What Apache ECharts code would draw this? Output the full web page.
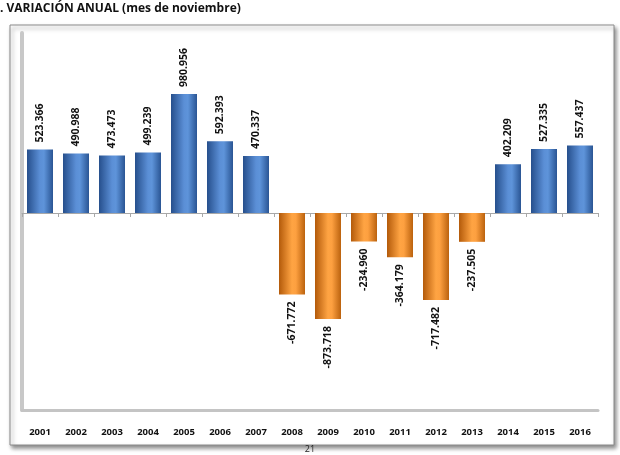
<!DOCTYPE html>
<html><head><meta charset="utf-8">
<script src="https://cdn.jsdelivr.net/npm/echarts@6/dist/echarts.min.js"></script>
<style>html,body{margin:0;padding:0;background:#fff}#c{width:620px;height:455px}</style>
</head><body><div id="c"></div>
<script>
const years = ['2001','2002','2003','2004','2005','2006','2007','2008','2009','2010','2011','2012','2013','2014','2015','2016'];
const values = [523.366, 490.988, 473.473, 499.239, 980.956, 592.393, 470.337, -671.772, -873.718, -234.960, -364.179, -717.482, -237.505, 402.209, 527.335, 557.437];
const titleText = '. VARIACIÓN ANUAL (mes de noviembre)';
const pageNumber = '21';

const blueGrad = new echarts.graphic.LinearGradient(0,0,1,0,[
  {offset:0,color:'#264f8c'},{offset:0.5,color:'#5b8fd6'},{offset:0.65,color:'#5e94da'},{offset:1,color:'#2a5594'}]);
const orangeGrad = new echarts.graphic.LinearGradient(0,0,1,0,[
  {offset:0,color:'#b35a0a'},{offset:0.5,color:'#ffa443'},{offset:0.65,color:'#fda040'},{offset:1,color:'#bb620e'}]);

function fmt(v){ return v.toFixed(3); }

const data = values.map(v => ({
  value: v,
  itemStyle: { color: v >= 0 ? blueGrad : orangeGrad },
  label: v >= 0
    ? { position: 'top', align: 'left', verticalAlign: 'middle' }
    : { position: 'bottom', align: 'right', verticalAlign: 'middle' }
}));

const chart = echarts.init(document.getElementById('c'), null, {renderer:'canvas'});
chart.setOption({
  animation: false,
  graphic: [
    { type:'rect', z:-10, shape:{x:10,y:25,width:604,height:420},
      style:{fill:'#fff', stroke:'#8a8a8a', lineWidth:1, shadowBlur:4, shadowOffsetX:2, shadowOffsetY:3, shadowColor:'rgba(0,0,0,0.45)'} },
    { type:'text', left:0, top:3, style:{text:titleText, font:'bold 12px "Open Sans", sans-serif', fill:'#111'} },
    { type:'text', left:'center', top:445, style:{text:pageNumber, font:'9px "Open Sans", sans-serif', fill:'#222'} }
  ],
  grid: { left: 22, right: 22, top: 33, bottom: 45 },
  xAxis: [
    { type:'category', data: years, position:'bottom',
      axisLine:{ onZero:false, lineStyle:{color:'#c4c4c4', width:3} },
      axisTick:{show:false},
      axisLabel:{ margin:17, fontSize:9.5, fontWeight:'bold', color:'#111', fontFamily:'"Open Sans", sans-serif' } },
    { type:'category', data: years, position:'bottom', gridIndex:0,
      axisLine:{ onZero:true, lineStyle:{color:'#a8a8a8', width:1} },
      axisTick:{ show:true, inside:false, length:4, lineStyle:{color:'#a8a8a8'} },
      axisLabel:{ show:false } }
  ],
  yAxis: { type:'value', min:-1624, max:1484,
    axisLine:{ show:true, onZero:false, lineStyle:{color:'#c8c8c8', width:4} },
    axisTick:{show:false}, axisLabel:{show:false}, splitLine:{show:false} },
  series: [{
    type:'bar', data: data, barWidth: 26, xAxisIndex:0,
    label: { show:true, rotate:90, distance:7, fontSize:10.5, fontWeight:'bold', color:'#111',
      fontFamily:'"Open Sans", sans-serif', formatter: p => fmt(p.value) }
  }]
});
</script></body></html>
